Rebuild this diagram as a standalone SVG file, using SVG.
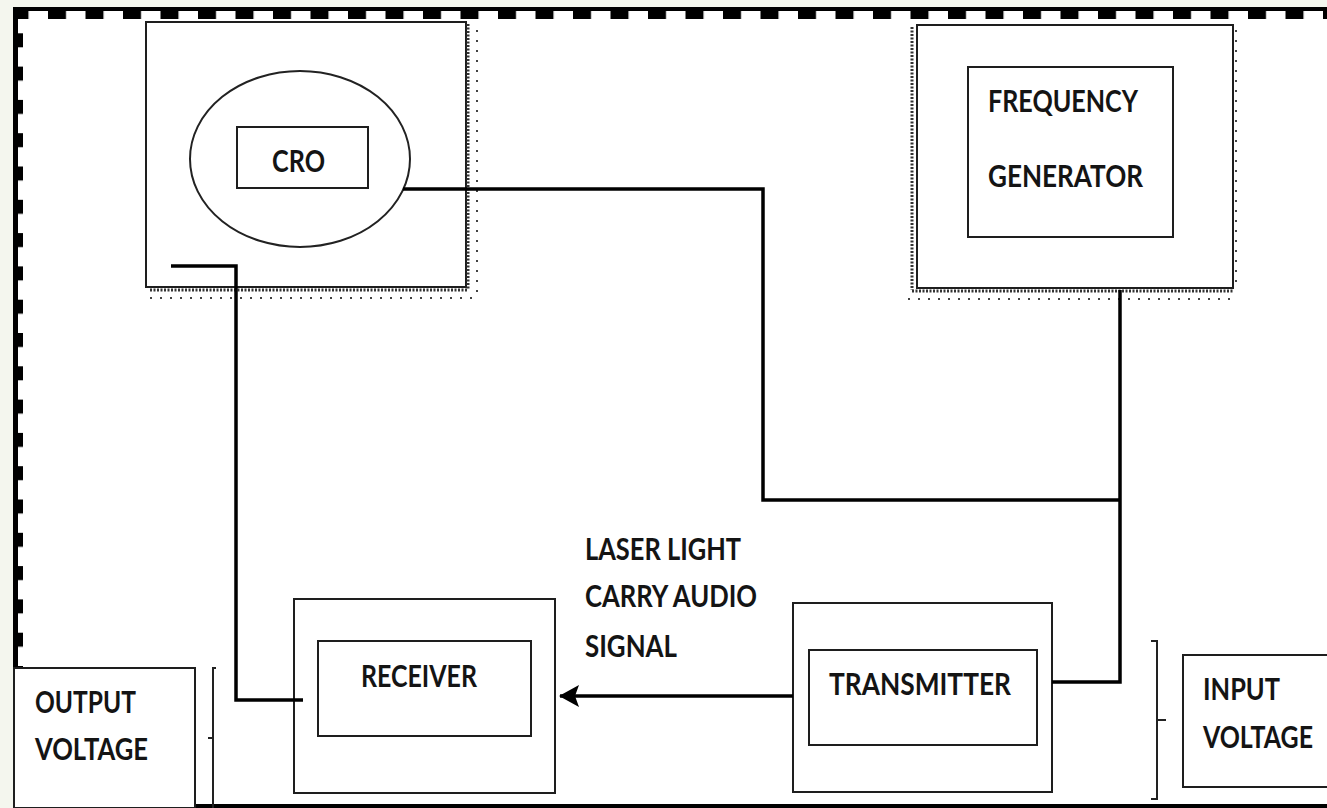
<svg xmlns="http://www.w3.org/2000/svg" width="1327" height="808" viewBox="0 0 1327 808">
<defs>
<style>
.box{fill:#fff;stroke:#1e1e1e;stroke-width:2}
.inner{fill:none;stroke:#1e1e1e;stroke-width:2}
.wire{fill:none;stroke:#000;stroke-width:3.5}
.thin{fill:none;stroke:#222;stroke-width:2}
.lbl{font-family:Lato,"Liberation Sans",Arial,sans-serif;font-weight:bold;font-size:30px;fill:#141414}
.dense{fill:none;stroke:#333;stroke-width:3;stroke-dasharray:2 1.5}
.sparse{fill:none;stroke:#444;stroke-width:2;stroke-dasharray:2 8}
</style>
<pattern id="topTeeth" patternUnits="userSpaceOnUse" x="48" y="0" width="37.5" height="30">
<rect x="0" y="0" width="18" height="30" fill="#000"/>
</pattern>
<pattern id="leftTeeth" patternUnits="userSpaceOnUse" x="0" y="0" width="30" height="33.3">
<rect x="0" y="0" width="30" height="14" fill="#000"/>
</pattern>
<marker id="arr" viewBox="0 0 20 22" refX="19" refY="11" markerWidth="20" markerHeight="22" markerUnits="userSpaceOnUse" orient="auto">
<path d="M20,11 L0,0 L4,11 L0,22 Z" fill="#000"/>
</marker>
</defs>

<g id="frame">
<rect x="0" y="0" width="1327" height="808" fill="#f4f6ee"/>
<rect x="14" y="8" width="1313" height="796" fill="#fff"/>
<rect x="13" y="7" width="1314" height="4" fill="#000"/>
<rect x="18" y="11" width="1309" height="8" fill="url(#topTeeth)"/>
<rect x="13" y="7" width="5" height="801" fill="#000"/>
<rect x="18" y="20" width="5" height="650" fill="url(#leftTeeth)"/>
<rect x="13" y="804" width="1314" height="4" fill="#000"/>
</g>

<g id="node-cro">
<rect class="box" x="146" y="22" width="320" height="265"/>
<line class="dense" x1="468" y1="24" x2="468" y2="290"/>
<line class="sparse" x1="477" y1="30" x2="477" y2="298"/>
<line class="dense" x1="150" y1="290" x2="468" y2="290"/>
<line class="sparse" x1="150" y1="298" x2="478" y2="298"/>
<ellipse class="thin" cx="300" cy="159" rx="110" ry="88"/>
<rect class="inner" x="237" y="127" width="131" height="61"/>
<text class="lbl" x="272" y="172" textLength="53" lengthAdjust="spacingAndGlyphs">CRO</text>
</g>

<g id="node-freq">
<rect class="box" x="917" y="25" width="316" height="263"/>
<line class="dense" x1="912" y1="27" x2="912" y2="290"/>
<line class="dense" x1="912" y1="291" x2="1234" y2="291"/>
<line class="sparse" x1="908" y1="299" x2="1236" y2="299"/>
<line class="sparse" x1="1236" y1="30" x2="1236" y2="290"/>
<rect class="inner" x="968" y="67" width="205" height="170"/>
<text class="lbl" x="988" y="112" textLength="150" lengthAdjust="spacingAndGlyphs">FREQUENCY</text>
<text class="lbl" x="988" y="187" textLength="155" lengthAdjust="spacingAndGlyphs">GENERATOR</text>
</g>

<g id="node-receiver">
<rect class="box" x="294" y="599" width="261" height="194"/>
<rect class="inner" x="318" y="641" width="213" height="95"/>
<text class="lbl" x="361" y="687" textLength="116" lengthAdjust="spacingAndGlyphs">RECEIVER</text>
</g>

<g id="node-transmitter">
<rect class="box" x="793" y="603" width="259" height="189"/>
<rect class="inner" x="809" y="650" width="228" height="95"/>
<text class="lbl" x="829" y="695" textLength="182" lengthAdjust="spacingAndGlyphs">TRANSMITTER</text>
</g>

<g id="node-output">
<rect class="box" x="14" y="668" width="181" height="140"/>
<text class="lbl" x="35" y="713" textLength="101" lengthAdjust="spacingAndGlyphs">OUTPUT</text>
<text class="lbl" x="35" y="760" textLength="113" lengthAdjust="spacingAndGlyphs">VOLTAGE</text>
<path class="thin" d="M216,668 H213 V808 M208,738 H213"/>
</g>

<g id="node-input">
<rect class="box" x="1183" y="655" width="150" height="132"/>
<text class="lbl" x="1203" y="700" textLength="77" lengthAdjust="spacingAndGlyphs">INPUT</text>
<text class="lbl" x="1203" y="748" textLength="110" lengthAdjust="spacingAndGlyphs">VOLTAGE</text>
<path class="thin" d="M1151,641 H1157 V799 H1151 M1157,720 H1166"/>
</g>

<g id="label-laser">
<text class="lbl" x="585" y="560" textLength="156" lengthAdjust="spacingAndGlyphs">LASER LIGHT</text>
<text class="lbl" x="585" y="607" textLength="172" lengthAdjust="spacingAndGlyphs">CARRY AUDIO</text>
<text class="lbl" x="585" y="657" textLength="92" lengthAdjust="spacingAndGlyphs">SIGNAL</text>
</g>

<g id="connectors">
<path class="wire" d="M403,189 H763 V500 H1120"/>
<path class="wire" d="M1120,290 V682 H1052"/>
<path class="wire" d="M171,266 H236 V700 H303"/>
<path class="wire" d="M793,696 H560" marker-end="url(#arr)"/>
</g>
</svg>
